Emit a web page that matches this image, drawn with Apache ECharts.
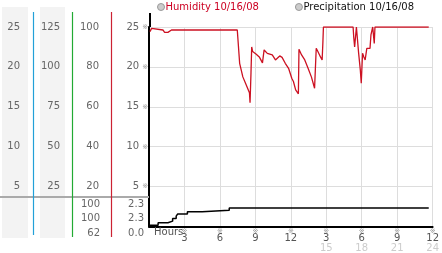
<!DOCTYPE html>
<html><head><meta charset="utf-8">
<script src="https://cdn.jsdelivr.net/npm/echarts@6/dist/echarts.min.js"></script>
<style>html,body{margin:0;padding:0;background:#fff}#c{width:442px;height:253px}</style>
</head><body><div id="c"></div>
<script>
// ---- data ----
const humidityName = 'Humidity 10/16/08';
const precipName = 'Precipitation 10/16/08';
const humHours = [0.08,0.22,0.36,1.18,1.32,1.6,1.9,7.47,7.67,7.94,8.22,8.5,8.55,8.63,8.69,8.77,9.05,9.33,9.6,9.74,10.01,10.43,10.7,10.84,11.06,11.26,11.53,11.81,12.08,12.22,12.41,12.5,12.64,12.69,12.91,13.18,13.46,13.74,14.01,14.15,14.29,14.51,14.65,14.71,14.76,17.27,17.32,17.4,17.52,17.55,17.69,17.74,17.88,17.96,18.07,18.18,18.29,18.43,18.7,18.78,18.9,18.93,18.98,19.06,19.12,23.67];
const humValues = [97.7,99.3,98.5,98.5,97.3,97.3,98.5,98.5,81.8,75,71,67,62,77,90,87.7,86.5,85,82,88.5,86.8,86,83.5,83.5,85.5,84.8,81.8,79.3,74.3,72.7,68.5,67.7,66.5,88.8,86,83.5,79.3,75,69.3,89.3,87.7,85,83.5,91.8,100,100,95.2,90,89.3,100,100,86.8,78.5,71.8,86.8,85,83.5,89.3,89.3,96,96,100,100,91.8,100,100];
const precipHours = [0.08,0.77,1.6,2.0,2.3,2.43,3.25,4.5,6.79,23.67];
const precipValues = [0.16,0.46,0.67,1.0,1.3,1.58,1.84,2.04,2.33,2.33];
const precipTicks = ['5','10','15','20','25'];
const humidityTicks = ['20','40','60','80','100'];
const col2Ticks = ['25','50','75','100','125'];
const col1Ticks = ['5','10','15','20','25'];
const hourTopLabels = ['3','6','9','12','3','6','9','12'];
const hourBottomLabels = ['','','','','15','18','21','24'];
const humidityStats = ['100','100','62'];
const precipStats = ['2.3','2.3','0.0'];

const FONT = 'DejaVu Sans';
const chart = echarts.init(document.getElementById('c'), null, {renderer:'canvas'});
const humData = humHours.map((h,i)=>[h,humValues[i]]);
const precipData = precipHours.map((h,i)=>[h,precipValues[i]]);

function tickLab(arr, step){ return v => { const i = Math.round(v/step)-1; return i>=0 && i<arr.length ? arr[i] : ''; }; }
const labStyle = {color:'#666', fontSize:10, fontFamily:FONT};

const statTexts = [];
[[humidityStats,100],[precipStats,144]].forEach(([arr,x])=>{
  arr.forEach((t,i)=>statTexts.push({type:'text', right: 442-x, top: 199+i*14.5, z:5,
    style:{text:t, fill:'#666', font:'10px '+FONT, textAlign:'right'}}));
});

chart.setOption({
  animation:false,
  textStyle:{fontFamily:FONT},
  legend:{
    left:157, top:2, padding:0, itemWidth:7, itemHeight:7, itemGap:36, icon:'circle',
    textStyle:{fontSize:10, fontFamily:FONT, padding:[0,0,0,-4]},
    data:[
      {name:humidityName, itemStyle:{color:'#ccc', borderColor:'#999', borderWidth:1}, textStyle:{color:'#cc0022'}},
      {name:precipName, itemStyle:{color:'#ccc', borderColor:'#999', borderWidth:1}, textStyle:{color:'#111'}}
    ]
  },
  grid:{left:149, top:27, width:290, height:200},
  xAxis:{
    type:'value', min:0, max:24, interval:3,
    axisLine:{lineStyle:{color:'#000', width:2}},
    axisTick:{show:false},
    splitLine:{lineStyle:{color:'#ddd'}},
    axisLabel:{
      margin:2, showMaxLabel:true, showMinLabel:true,
      formatter: v => {
        const i = Math.round(v/3)-1;
        if (i<0) return '';
        let s = '{m|※}\n{a|'+hourTopLabels[i]+'}';
        if (hourBottomLabels[i]) s += '\n{b|'+hourBottomLabels[i]+'}';
        return s;
      },
      rich:{
        m:{fontSize:7, color:'#999', lineHeight:5, fontFamily:FONT},
        a:{fontSize:10, color:'#555', lineHeight:10, fontFamily:FONT},
        b:{fontSize:10, color:'#ccc', lineHeight:9, fontFamily:FONT}
      }
    }
  },
  yAxis:[
    {type:'value', min:0, max:25, interval:5, position:'left',
     axisLine:{show:true, lineStyle:{color:'#000', width:2}}, axisTick:{show:false},
     splitLine:{lineStyle:{color:'#ddd'}},
     axisLabel:{margin:1, formatter: v => { const t = tickLab(precipTicks,5)(v); return t ? '{v|'+t+'}{m|※}' : ''; },
       rich:{v:{color:'#666', fontSize:10, fontFamily:FONT, padding:[0,3,0,0]}, m:{fontSize:7, color:'#999', fontFamily:FONT}}}},
    {type:'value', min:0, max:100, interval:20, position:'left', offset:38,
     axisLine:{show:false}, axisTick:{show:false}, splitLine:{show:false},
     axisLabel:Object.assign({margin:12, formatter:tickLab(humidityTicks,20)}, labStyle)},
    {type:'value', min:0, max:125, interval:25, position:'left', offset:77,
     axisLine:{show:false}, axisTick:{show:false}, splitLine:{show:false},
     axisLabel:Object.assign({margin:12, formatter:tickLab(col2Ticks,25)}, labStyle)},
    {type:'value', min:0, max:25, interval:5, position:'left', offset:116,
     axisLine:{show:false}, axisTick:{show:false}, splitLine:{show:false},
     axisLabel:Object.assign({margin:13, formatter:tickLab(col1Ticks,5)}, labStyle)}
  ],
  series:[
    {name:humidityName, type:'line', yAxisIndex:1, data:humData, symbol:'none',
     lineStyle:{color:'#cc1122', width:1.3}, itemStyle:{color:'#cc1122'}, z:3},
    {name:precipName, type:'line', yAxisIndex:0, data:precipData, symbol:'none', step:'end',
     lineStyle:{color:'#000', width:1.5}, itemStyle:{color:'#000'}, z:3}
  ],
  graphic:[
    {type:'rect', shape:{x:2, y:7, width:26, height:231}, style:{fill:'#f3f3f3'}, z:-10},
    {type:'rect', shape:{x:40, y:7, width:25, height:231}, style:{fill:'#f3f3f3'}, z:-10},
    {type:'line', shape:{x1:0, y1:197, x2:149, y2:197}, style:{stroke:'#aaa', lineWidth:2}, z:1},
    {type:'line', shape:{x1:33.5, y1:12, x2:33.5, y2:235}, style:{stroke:'#22a0d8', lineWidth:1.2}, z:2},
    {type:'line', shape:{x1:72.5, y1:12, x2:72.5, y2:237}, style:{stroke:'#22aa33', lineWidth:1.2}, z:2},
    {type:'line', shape:{x1:111.5, y1:12, x2:111.5, y2:237}, style:{stroke:'#cc2233', lineWidth:1.2}, z:2},
    {type:'line', shape:{x1:150, y1:13, x2:150, y2:27}, style:{stroke:'#000', lineWidth:2}, z:2},
    {type:'text', left:154, top:227, style:{text:'Hours', fill:'#555', font:'10px '+FONT}, z:5}
  ].concat(statTexts)
});
</script></body></html>
